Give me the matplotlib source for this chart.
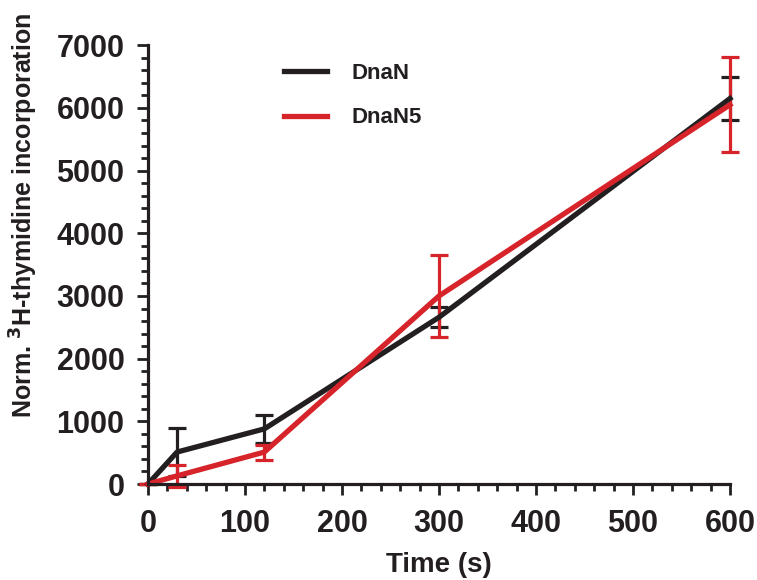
import numpy as np
import matplotlib.pyplot as plt
from matplotlib.ticker import MultipleLocator

plt.rcParams['font.family'] = ['Liberation Sans', 'DejaVu Sans']
plt.rcParams['font.weight'] = 'bold'

time_s = [0, 30, 120, 300, 600]
dnan = [0, 510, 880, 2660, 6150]
dnan_err = [0, 390, 220, 160, 340]
dnan5 = [0, 130, 510, 3000, 6050]
dnan5_err = [0, 170, 120, 650, 760]

BLACK = '#231f20'
RED = '#d7232a'

fig = plt.figure(figsize=(7.57, 5.8), dpi=100)
ax = fig.add_axes([0.1955, 0.1655, 0.7688, 0.7565])

ax.errorbar(time_s, dnan, yerr=dnan_err, color=BLACK, lw=3.8, elinewidth=2.3,
            capsize=6.5, capthick=2.3, label='DnaN', clip_on=False)
ax.errorbar(time_s, dnan5, yerr=dnan5_err, color=RED, lw=3.8, elinewidth=2.3,
            capsize=6.5, capthick=2.3, label='DnaN5', clip_on=False)

ax.set_xlim(0, 600)
ax.set_ylim(0, 7000)
ax.xaxis.set_major_locator(MultipleLocator(100))
ax.xaxis.set_minor_locator(MultipleLocator(20))
ax.yaxis.set_major_locator(MultipleLocator(1000))
ax.yaxis.set_minor_locator(MultipleLocator(200))

for s in ['top', 'right']:
    ax.spines[s].set_visible(False)
for s in ['left', 'bottom']:
    ax.spines[s].set_linewidth(2.3)
    ax.spines[s].set_color(BLACK)

ax.tick_params(which='major', length=8, width=2, color=BLACK, labelsize=22,
               labelcolor=BLACK)
ax.tick_params(axis='y', which='major', pad=9)
ax.tick_params(axis='x', which='major', pad=10)
ax.tick_params(which='minor', length=5, width=2, color=BLACK)
for lab in ax.get_xticklabels() + ax.get_yticklabels():
    lab.set_fontweight('bold')

ax.set_xlabel('Time (s)', fontsize=20, fontweight='bold', color=BLACK, labelpad=9)
fig.text(0.032, 0.628, 'Norm. $^{3}$H-thymidine incorporation', rotation=90,
         fontsize=18, fontweight='bold', color=BLACK, ha='center', va='center')

leg = ax.legend(handles=[ax.containers[0].lines[0], ax.containers[1].lines[0]],
                labels=['DnaN', 'DnaN5'], frameon=False, loc='upper left',
                bbox_to_anchor=(0.2, 1.005), fontsize=16, handlelength=1.9,
                handletextpad=1.1, labelspacing=1.05)
for t in leg.get_texts():
    t.set_fontweight('bold')
    t.set_color(BLACK)

fig.savefig('out.png', dpi=100)
